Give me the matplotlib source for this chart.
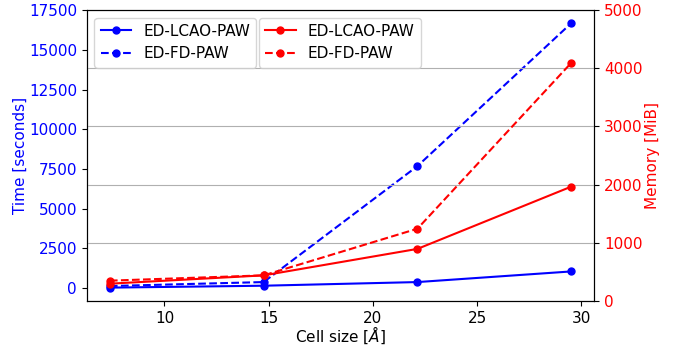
import matplotlib
matplotlib.use("Agg")
import matplotlib.pyplot as plt
import numpy as np

plt.rcParams['font.size'] = 11

# Cell sizes (Angstrom)
cell_size = [7.38, 14.76, 22.14, 29.52]

# Time in seconds
time_lcao = [20, 140, 370, 1040]
time_fd = [120, 370, 7680, 16690]

# Memory in MiB
mem_lcao = [295, 438, 893, 1963]
mem_fd = [347, 438, 1240, 4090]

fig, ax1 = plt.subplots(figsize=(6.73, 3.45), dpi=100)
fig.subplots_adjust(left=0.129, right=0.883, top=0.971, bottom=0.128)

ms = 5
l1, = ax1.plot(cell_size, time_lcao, 'o-', color='blue', ms=ms, label='ED-LCAO-PAW')
l2, = ax1.plot(cell_size, time_fd, 'o--', color='blue', ms=ms, label='ED-FD-PAW')
ax1.set_xlabel(r'Cell size [$\AA$]', labelpad=-1)
ax1.set_ylabel('Time [seconds]', color='blue', labelpad=0.5)
ax1.tick_params(axis='y', labelcolor='blue')

ax2 = ax1.twinx()
l3, = ax2.plot(cell_size, mem_lcao, 'o-', color='red', ms=ms, label='ED-LCAO-PAW')
l4, = ax2.plot(cell_size, mem_fd, 'o--', color='red', ms=ms, label='ED-FD-PAW')
ax2.set_ylim(0, 5000)
ax2.set_ylabel('Memory [MiB]', color='red', labelpad=2)
ax2.tick_params(axis='y', labelcolor='red')
ax2.grid(axis='y')

# two legends side by side, one per axis
leg1 = ax2.legend(handles=[l1, l2], loc='upper left')
ax2.add_artist(leg1)
ax2.legend(handles=[l3, l4], loc='upper left', bbox_to_anchor=(0.324, 1.0))

fig.savefig('out.png', dpi=100)
